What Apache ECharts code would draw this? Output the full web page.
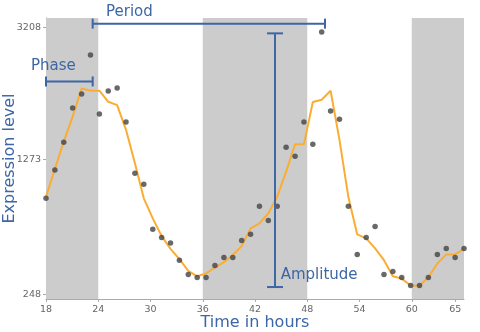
<!DOCTYPE html>
<html><head><meta charset="utf-8">
<script src="https://cdn.jsdelivr.net/npm/echarts@6/dist/echarts.min.js"></script>
<style>html,body{margin:0;padding:0;background:#fff}#c{width:480px;height:332px}</style>
</head><body><div id="c"></div>
<script>
// sample times (hours)
const hours = [18.00,19.02,20.04,21.06,22.09,23.11,24.13,25.15,26.17,27.19,28.21,29.23,30.26,31.28,32.30,33.32,
  34.34,35.36,36.38,37.40,38.43,39.45,40.47,41.49,42.51,43.53,44.55,45.57,46.60,47.62,48.64,49.66,
  50.68,51.70,52.72,53.74,54.77,55.79,56.81,57.83,58.85,59.87,60.89,61.91,62.94,63.96,64.98,66.00];
// observed expression level
const observed = [882,1156,1466,1904,2103,2718,1822,2147,2192,1716,1122,1012,629,571,532,424,
  344,329,329,394,440,440,550,593,812,697,812,1407,1304,1716,1442,3123,
  1863,1755,812,459,571,651,344,360,329,289,289,329,459,497,440,497];
// fitted curve
const fitted = [896,1167,1473,1789,2186,2152,2152,1992,1945,1617,1227,882,713,580,494,430,
  364,335,350,382,413,455,512,636,674,753,896,1139,1442,1442,1988,2021,
  2152,1493,894,592,564,497,424,335,323,289,288,330,405,459,459,495];
const xTicks = [18,24,30,36,42,48,54,60,65];
const yTicks = [248,1273,3208];
const xRange = [18,66];
const yRange = [229,3383];
const darkBands = [[18,24],[36,48],[60,66]];
const periodRange = [23.36,50.04], periodLevel = 3276;
const phaseRange = [18,23.36], phaseLevel = 2292;
const amplitudeHour = 44.3, amplitudeRange = [282,3097];

const P = 0.435;
const T = v => Math.pow(v, P);
const BLUE = '#3d66a6';
const FONT = 'DejaVu Sans';

const chart = echarts.init(document.getElementById('c'), null, {renderer:'canvas'});
const yTickT = yTicks.map(T);
const option = {
  animation:false,
  backgroundColor:'#fff',
  grid:{left:46,right:16,top:18,bottom:33,containLabel:false,outerBoundsMode:'none'},
  xAxis:{type:'value',min:xRange[0],max:xRange[1],
    name:'Time in hours',nameLocation:'middle',nameGap:16,nameMoveOverlap:false,
    nameTextStyle:{color:BLUE,fontSize:16,fontFamily:FONT},
    axisLine:{show:true,onZero:false,lineStyle:{color:'#aaaaaa',width:1}},
    axisTick:{show:true,customValues:xTicks,length:3,lineStyle:{color:'#aaaaaa'}},
    axisLabel:{customValues:xTicks,color:'#666',fontSize:9.5,fontFamily:FONT,margin:6},
    splitLine:{show:false}},
  yAxis:{type:'value',min:T(yRange[0]),max:T(yRange[1]),
    name:'Expression level',nameLocation:'middle',nameGap:28,nameRotate:90,nameMoveOverlap:false,
    nameTextStyle:{color:BLUE,fontSize:16,fontFamily:FONT},
    axisLine:{show:true,onZero:false,lineStyle:{color:'#aaaaaa',width:1}},
    axisTick:{show:true,customValues:yTickT,length:3,lineStyle:{color:'#aaaaaa'}},
    axisLabel:{customValues:yTickT,color:'#666',fontSize:9.5,fontFamily:FONT,margin:5,
      formatter:function(v){let best=yTicks[0],bd=1e9;yTicks.forEach(t=>{const d=Math.abs(T(t)-v);if(d<bd){bd=d;best=t;}});return String(best);}},
    splitLine:{show:false}},
  series:[
    {type:'line',data:[],z:1,silent:true,
      markArea:{silent:true,itemStyle:{color:'#cccccc'},
        data:darkBands.map(b=>[{xAxis:b[0]},{xAxis:b[1]}])}},
    {type:'line',z:3,data:hours.map((h,i)=>[h,T(fitted[i])]),showSymbol:false,symbol:'none',
      lineStyle:{color:'#fbad33',width:2}},
    {type:'scatter',z:4,data:hours.map((h,i)=>[h,T(observed[i])]),symbolSize:5.5,
      itemStyle:{color:'#434343'}}
  ]
};
chart.setOption(option);

function px(h,v){return chart.convertToPixel({gridIndex:0},[h,T(v)]);}
const seg=(x1,y1,x2,y2)=>({type:'line',z:100,shape:{x1,y1,x2,y2},style:{stroke:BLUE,lineWidth:2}});
const txt=(s,x,y)=>({type:'text',z:100,x:x,y:y,style:{text:s,font:'15px "'+FONT+'"',fill:BLUE,align:'left',verticalAlign:'middle'}});
const pa=px(periodRange[0],periodLevel), pb=px(periodRange[1],periodLevel);
const fa=px(phaseRange[0],phaseLevel), fb=px(phaseRange[1],phaseLevel);
const aa=px(amplitudeHour,amplitudeRange[1]), ab=px(amplitudeHour,amplitudeRange[0]);
const C=5, CA=8;
const els=[
  seg(pa[0],pa[1],pb[0],pb[1]), seg(pa[0],pa[1]-C,pa[0],pa[1]+C), seg(pb[0],pb[1]-C,pb[0],pb[1]+C),
  seg(fa[0],fa[1],fb[0],fb[1]), seg(fa[0],fa[1]-C,fa[0],fa[1]+C), seg(fb[0],fb[1]-C,fb[0],fb[1]+C),
  seg(aa[0],aa[1],ab[0],ab[1]), seg(aa[0]-CA,aa[1],aa[0]+CA,aa[1]), seg(ab[0]-CA,ab[1],ab[0]+CA,ab[1]),
  txt('Period',pa[0]+13.3,pa[1]-11.2),
  txt('Phase',fa[0]-15,fa[1]-15.5),
  txt('Amplitude',aa[0]+5.7,ab[1]-12.2)
];
chart.setOption({graphic:{elements:els}});
</script></body></html>
